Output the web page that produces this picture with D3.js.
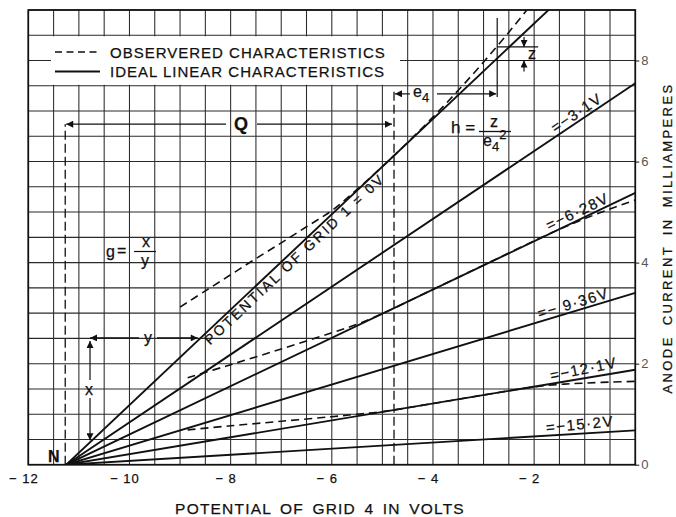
<!DOCTYPE html>
<html><head><meta charset="utf-8">
<script src="https://cdn.jsdelivr.net/npm/d3@7"></script>
<style>
body{margin:0;background:#fff}
svg{display:block}
text{font-family:"Liberation Sans",Arial,Helvetica,sans-serif;fill:#111;stroke:#111;stroke-width:0.25px}
</style>
</head><body>
<svg id="c" width="676" height="517"></svg>
<script>
// ---------------- data ----------------
const xTicks = [-12, -10, -8, -6, -4, -2];
const yTicks = [0, 2, 4, 6, 8];
const nullPointV = -11.25;                       // point N (zero current)
const grid1Volts = [0, -3.1, -6.28, -9.36, -12.1, -15.2];
const grid1Labels = ["POTENTIAL OF GRID 1 = 0V", "=−3·1V", "=−6·28V", "=− 9·36V", "=−12·1V", "=−15·2V"];
const idealCurrentAtZero = [10.62, 7.55, 5.38, 3.40, 1.88, 0.68];   // mA at grid-4 = 0 V
const observed0V = [[-9.0,3.12],[-8.5,3.44],[-8.0,3.76],[-7.5,4.08],[-7.0,4.39],[-6.5,4.71],[-6.0,5.03],
  [-5.5,5.45],[-5.0,5.90],[-4.5,6.38],[-4.0,6.88],[-3.5,7.41],[-3.0,7.97],[-2.5,8.56],[-2.0,9.18],[-1.7,9.55]];
const observed628 = [[-8.85,1.72],[-8.0,1.98],[-7.0,2.29],[-6.0,2.61],[-5.5,2.78],[-5.0,2.99],[-4.0,3.47],
  [-3.0,3.95],[-2.0,4.43],[-1.5,4.66],[-1.0,4.87],[-0.5,5.06],[0,5.24]];
const observed121 = [[-8.85,0.69],[-8.0,0.77],[-7.0,0.86],[-6.0,0.95],[-5.5,1.00],[-5.0,1.05],[-4.0,1.21],
  [-3.0,1.38],[-2.2,1.51],[-1.8,1.565],[-1.4,1.595],[-1.0,1.615],[-0.5,1.635],[0,1.65]];
const legendItems = ["OBSERVERED CHARACTERISTICS", "IDEAL LINEAR CHARACTERISTICS"];
const xTitle = "POTENTIAL OF GRID 4 IN VOLTS";
const yTitle = "ANODE CURRENT IN MILLIAMPERES";
// annotation values (volts / mA)
const qLevel = 6.74, qLeftV = -11.27, tangentV = -4.77, e4Level = 7.34, zV = -2.73;
const zTop = 8.27, zBottom = 8.0;

// ---------------- layout ----------------
const svg = d3.select("#c");
const X = d3.scaleLinear().domain([-12, 0]).range([28.3, 635.3]);
const Y = d3.scaleLinear().domain([0, 9]).range([464.7, 10]);
const INK = "#111";

const defs = svg.append("defs");
defs.append("clipPath").attr("id","plot").append("rect")
  .attr("x", X(-12)).attr("y", Y(9)).attr("width", X(0)-X(-12)).attr("height", Y(0)-Y(9));
defs.append("marker").attr("id","arr").attr("viewBox","0 0 10 10").attr("refX",10).attr("refY",5)
  .attr("markerWidth",9).attr("markerHeight",7).attr("markerUnits","userSpaceOnUse")
  .attr("orient","auto-start-reverse")
  .append("path").attr("d","M0,0 L10,5 L0,10 Z").attr("fill",INK);

// grid
const gxs = d3.range(-12, 0.001, 0.5), gys = d3.range(0, 9.001, 0.5);
const grid = svg.append("g").attr("stroke","#2a2a2a").attr("stroke-width",1.05);
grid.selectAll(".v").data(gxs).join("line").attr("class","v")
  .attr("x1", d=>X(d)).attr("x2", d=>X(d)).attr("y1", Y(0)).attr("y2", Y(9));
grid.selectAll(".h").data(gys).join("line").attr("class","h")
  .attr("y1", d=>Y(d)).attr("y2", d=>Y(d)).attr("x1", X(-12)).attr("x2", X(0));

// legend box (white, hides grid)
svg.append("rect").attr("x", 51).attr("y", Y(8.5)+1).attr("width", 349).attr("height", Y(7.5)-Y(8.5)-2).attr("fill","#fff");

// border
svg.append("rect").attr("x", X(-12)).attr("y", Y(9)).attr("width", X(0)-X(-12)).attr("height", Y(0)-Y(9))
  .attr("fill","none").attr("stroke",INK).attr("stroke-width",1.7);

// axes
const yAxis = d3.axisRight(Y).tickValues(yTicks).tickSize(4).tickPadding(2).tickFormat(d3.format("d"));
const gy = svg.append("g").attr("transform",`translate(${X(0)},0)`).call(yAxis);
gy.select(".domain").remove();
gy.selectAll("text").style("font-size","13px").style("fill","#555").style("stroke","none")
  .attr("font-family","Liberation Sans, Arial, sans-serif");
gy.selectAll("line").attr("stroke",INK);

const xAxis = d3.axisBottom(X).tickValues(xTicks).tickSize(0).tickPadding(9)
  .tickFormat(d => "− " + Math.abs(d));
const gxA = svg.append("g").attr("transform",`translate(-5,${Y(0)})`).call(xAxis);
gxA.select(".domain").remove();
gxA.selectAll("text").style("font-size","13px").style("letter-spacing","1px").style("fill",INK)
  .attr("font-family","Liberation Sans, Arial, sans-serif");

// axis titles
svg.append("text").attr("x", 320).attr("y", 514).attr("text-anchor","middle")
  .style("font-size","15.5px").style("letter-spacing","1.2px").style("word-spacing","3px").text(xTitle);
svg.append("text").attr("transform",`translate(671.5,${238}) rotate(-90)`).attr("text-anchor","middle")
  .style("font-size","13px").style("letter-spacing","2.4px").style("word-spacing","4px").text(yTitle);

// legend
svg.append("line").attr("x1",55).attr("x2",100).attr("y1",52).attr("y2",52)
  .attr("stroke",INK).attr("stroke-width",1.6).attr("stroke-dasharray","7,4.5");
svg.append("line").attr("x1",55).attr("x2",100).attr("y1",71.5).attr("y2",71.5)
  .attr("stroke",INK).attr("stroke-width",1.8);
svg.selectAll(".leg").data(legendItems).join("text").attr("class","leg")
  .attr("x",110).attr("y",(d,i)=>57.5+i*19.7)
  .style("font-size","15px").style("letter-spacing","1px").text(d=>d);

// ideal lines
const plot = svg.append("g").attr("clip-path","url(#plot)");
plot.selectAll(".ideal").data(idealCurrentAtZero).join("line").attr("class","ideal")
  .attr("x1", X(nullPointV)).attr("y1", Y(0)).attr("x2", X(0)).attr("y2", d=>Y(d))
  .attr("stroke",INK).attr("stroke-width",1.9);

// observed (dashed)
const lineGen = d3.line().x(d=>X(d[0])).y(d=>Y(d[1])).curve(d3.curveCatmullRom.alpha(0.5));
plot.selectAll(".obs").data([observed0V, observed628, observed121]).join("path").attr("class","obs")
  .attr("d", lineGen).attr("fill","none").attr("stroke",INK).attr("stroke-width",1.6)
  .attr("stroke-dasharray","8,5");

// line labels
function lineAngle(i){
  const dx = X(0)-X(nullPointV), dy = Y(idealCurrentAtZero[i]) - Y(0);
  return Math.atan2(dy, dx);   // negative (screen)
}
function pointOnLine(i, v){
  const I = idealCurrentAtZero[i] * (v - nullPointV) / (0 - nullPointV);
  return [X(v), Y(I)];
}
// 0 V label: below the line
{
  const a = lineAngle(0), [px,py] = pointOnLine(0, -8.57);
  const off = 12, bx = px + off*Math.sin(-a), by = py + off*Math.cos(-a);
  svg.append("text").attr("transform",`translate(${bx},${by}) rotate(${a*180/Math.PI})`)
    .style("font-size","14px").style("letter-spacing","2.4px").text(grid1Labels[0]);
}
const labelStartV = [null, -1.55, -1.68, -1.88, -1.65, -1.75];
for (let i=1;i<grid1Labels.length;i++){
  const a = lineAngle(i), [px,py] = pointOnLine(i, labelStartV[i]);
  const off = 3, bx = px - off*Math.sin(-a), by = py - off*Math.cos(-a);
  svg.append("text").attr("transform",`translate(${bx},${by}) rotate(${a*180/Math.PI - (i>=4?2:0)})`)
    .style("font-size","15px").style("letter-spacing","1.5px").text(grid1Labels[i]);
}

// ---------------- annotations ----------------
const ann = svg.append("g").attr("stroke",INK).attr("fill","none");
// vertical dashed lines
ann.append("line").attr("x1",X(qLeftV)).attr("x2",X(qLeftV)).attr("y1",Y(0)).attr("y2",Y(qLevel))
  .attr("stroke-width",1.3).attr("stroke-dasharray","9,4");
ann.append("line").attr("x1",X(tangentV)).attr("x2",X(tangentV)).attr("y1",Y(0)).attr("y2",Y(7.46))
  .attr("stroke-width",1.3).attr("stroke-dasharray","9,4");
// Q arrow
ann.append("line").attr("x1",226).attr("x2",X(qLeftV)+1).attr("y1",Y(qLevel)).attr("y2",Y(qLevel))
  .attr("stroke-width",1.2).attr("marker-end","url(#arr)");
ann.append("line").attr("x1",257).attr("x2",X(tangentV)-2).attr("y1",Y(qLevel)).attr("y2",Y(qLevel))
  .attr("stroke-width",1.2).attr("marker-end","url(#arr)");
svg.append("text").attr("x",241).attr("y",Y(qLevel)+6).attr("text-anchor","middle")
  .style("font-size","18px").style("font-weight","bold").text("Q");
// e4 arrow
ann.append("line").attr("x1",410).attr("x2",X(tangentV)+1).attr("y1",Y(e4Level)).attr("y2",Y(e4Level))
  .attr("stroke-width",1.2).attr("marker-end","url(#arr)");
ann.append("line").attr("x1",437).attr("x2",X(zV)-1).attr("y1",Y(e4Level)).attr("y2",Y(e4Level))
  .attr("stroke-width",1.2).attr("marker-end","url(#arr)");
const e4 = svg.append("text").attr("x",413).attr("y",Y(e4Level)+3).style("font-size","16px");
e4.append("tspan").text("e");
e4.append("tspan").attr("dy",5).style("font-size","13px").text("4");
// vertical thin line at zV
ann.append("line").attr("x1",X(zV)).attr("x2",X(zV)).attr("y1",Y(7.28)).attr("y2",Y(8.84)).attr("stroke-width",1.2);
// z bracket
ann.append("line").attr("x1",X(zV)).attr("x2",X(-1.92)).attr("y1",Y(zTop)).attr("y2",Y(zTop)).attr("stroke-width",1.1);
ann.append("line").attr("x1",X(zV)).attr("x2",X(-2.05)).attr("y1",Y(zBottom)).attr("y2",Y(zBottom)).attr("stroke-width",1.1);
ann.append("line").attr("x1",X(-2.2)).attr("x2",X(-2.2)).attr("y1",Y(zTop)-10).attr("y2",Y(zTop))
  .attr("stroke-width",1.2).attr("marker-end","url(#arr)");
ann.append("line").attr("x1",X(-2.2)).attr("x2",X(-2.2)).attr("y1",Y(zBottom)+11).attr("y2",Y(zBottom))
  .attr("stroke-width",1.2).attr("marker-end","url(#arr)");
svg.append("text").attr("x",X(-2.2)+4).attr("y",Y(zBottom)-2).style("font-size","16px").text("z");
// h = z / e4^2
svg.append("text").attr("x",451).attr("y",133).style("font-size","17px").text("h =");
svg.append("line").attr("x1",479).attr("x2",511).attr("y1",131.5).attr("y2",131.5).attr("stroke",INK).attr("stroke-width",1.3);
svg.append("text").attr("x",494).attr("y",127).attr("text-anchor","middle").style("font-size","16px").text("z");
const den = svg.append("text").attr("x",483).attr("y",146).style("font-size","16px");
den.append("tspan").text("e");
den.append("tspan").attr("dy",5).style("font-size","13px").text("4");
den.append("tspan").attr("dy",-12).style("font-size","13px").text("2");
// g = x / y
svg.append("text").attr("x",106).attr("y",257).style("font-size","16px").text("g");
svg.append("text").attr("x",117).attr("y",256).style("font-size","16px").text("=");
svg.append("line").attr("x1",134).attr("x2",156).attr("y1",251.5).attr("y2",251.5).attr("stroke",INK).attr("stroke-width",1.2);
svg.append("text").attr("x",146).attr("y",247).attr("text-anchor","middle").style("font-size","16px").text("x");
svg.append("text").attr("x",145).attr("y",266).attr("text-anchor","middle").style("font-size","16px").text("y");
// y arrow (horizontal) and x arrow (vertical)
const gV = -10.78, gTop = 2.51;
const gRightV = nullPointV + gTop/ (idealCurrentAtZero[0]/(0-nullPointV));
ann.append("line").attr("x1",139).attr("x2",X(gV)).attr("y1",Y(gTop)).attr("y2",Y(gTop))
  .attr("stroke-width",1.2).attr("marker-end","url(#arr)");
ann.append("line").attr("x1",157).attr("x2",X(gRightV)-3).attr("y1",Y(gTop)).attr("y2",Y(gTop))
  .attr("stroke-width",1.2).attr("marker-end","url(#arr)");
svg.append("text").attr("x",148).attr("y",Y(gTop)+5).attr("text-anchor","middle").style("font-size","16px").text("y");
const gBot = idealCurrentAtZero[0]*(gV-nullPointV)/(0-nullPointV);
ann.append("line").attr("x1",X(gV)).attr("x2",X(gV)).attr("y1",380).attr("y2",Y(gTop)+3)
  .attr("stroke-width",1.2).attr("marker-end","url(#arr)");
ann.append("line").attr("x1",X(gV)).attr("x2",X(gV)).attr("y1",398).attr("y2",Y(gBot)-2)
  .attr("stroke-width",1.2).attr("marker-end","url(#arr)");
svg.append("text").attr("x",X(gV)-1).attr("y",395).attr("text-anchor","middle").style("font-size","16px").text("x");
// N
svg.append("text").attr("x",48).attr("y",462).style("font-size","16px").style("font-weight","bold").text("N");
</script>
</body></html>
